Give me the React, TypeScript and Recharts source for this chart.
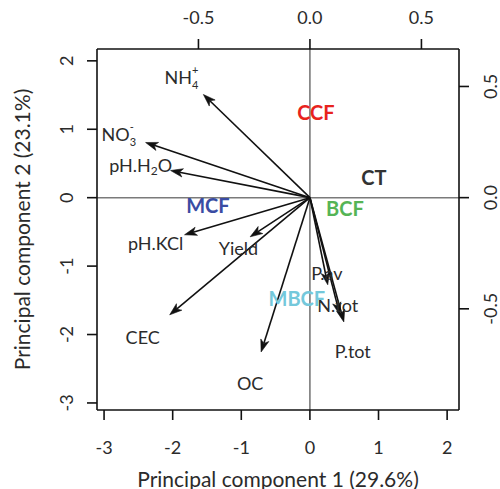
import React from "react";
import { ScatterChart, XAxis, YAxis, Scatter, ReferenceLine, Label } from "recharts";

const FONT = "Lato, 'DejaVu Sans', sans-serif";
const TEXT = "#2b2b2b";

// axes
const scoreTicks = [-3, -2, -1, 0, 1, 2];
const loadingTicks = [-0.5, 0, 0.5];
const scoreDomain: [number, number] = [-3.103, 2.173];
const loadingDomain: [number, number] = [-0.955, 0.6685];

// variable loadings (arrow tips) and their label positions (loading units)
const variableNames = ["NH4+", "NO3-", "pH.H2O", "pH.KCl", "Yield", "CEC", "OC", "P.av", "N.tot", "P.tot"];
const arrowTipX = [-0.478, -0.737, -0.625, -0.5625, -0.268, -0.629, -0.219, 0.08, 0.134, 0.152];
const arrowTipY = [0.464, 0.248, 0.122, -0.167, -0.176, -0.527, -0.694, -0.392, -0.527, -0.559];
const labelX = [-0.576, -0.857, -0.759, -0.692, -0.321, -0.75, -0.268, 0.076, 0.125, 0.192];
const labelY = [0.544, 0.287, 0.148, -0.203, -0.225, -0.627, -0.834, -0.339, -0.483, -0.69];

// treatment centroids (score units)
const treatmentNames = ["CCF", "CT", "BCF", "MCF", "MBCF"];
const treatmentX = [0.087, 0.933, 0.51, -1.487, -0.19];
const treatmentY = [1.254, 0.304, -0.15, -0.105, -1.472];
const treatmentColors = ["#e8231d", "#333333", "#55b455", "#3a4ca3", "#74c8db"];

const arrowData = variableNames.map((name, i) => ({ name, x: arrowTipX[i], y: arrowTipY[i] }));
const labelData = variableNames.map((name, i) => ({ name, x: labelX[i], y: labelY[i] }));
const treatmentData = treatmentNames.map((name, i) => ({
  name,
  x: treatmentX[i],
  y: treatmentY[i],
  color: treatmentColors[i],
}));

const fmtLoad = (v: number) => v.toFixed(1);

const BottomTick = (p: any) => (
  <text x={p.x} y={p.y + 25} textAnchor="middle" dominantBaseline="central" fontFamily={FONT} fontSize={18} fill={TEXT}>
    {p.payload.value}
  </text>
);
const TopTick = (p: any) => (
  <text x={p.x} y={p.y - 20} textAnchor="middle" dominantBaseline="central" fontFamily={FONT} fontSize={18} fill={TEXT}>
    {fmtLoad(p.payload.value)}
  </text>
);
const LeftTick = (p: any) => {
  const x = p.x - 19;
  return (
    <text x={x} y={p.y} transform={`rotate(-90, ${x}, ${p.y})`} textAnchor="middle" dominantBaseline="central" fontFamily={FONT} fontSize={18} fill={TEXT}>
      {p.payload.value}
    </text>
  );
};
const RightTick = (p: any) => {
  const x = p.x + 19;
  return (
    <text x={x} y={p.y} transform={`rotate(-90, ${x}, ${p.y})`} textAnchor="middle" dominantBaseline="central" fontFamily={FONT} fontSize={18} fill={TEXT}>
      {fmtLoad(p.payload.value)}
    </text>
  );
};

const ArrowShape = (p: any) => {
  const { x1, y1, x2, y2 } = p;
  const a = Math.atan2(y2 - y1, x2 - x1);
  const len = 13;
  const spread = 0.33;
  const back = 9;
  const lx = x2 - len * Math.cos(a - spread);
  const ly = y2 - len * Math.sin(a - spread);
  const rx = x2 - len * Math.cos(a + spread);
  const ry = y2 - len * Math.sin(a + spread);
  const nx = x2 - back * Math.cos(a);
  const ny = y2 - back * Math.sin(a);
  return (
    <g>
      <line x1={x1} y1={y1} x2={nx} y2={ny} stroke="#111" strokeWidth={1.6} />
      <polygon points={`${x2},${y2} ${lx},${ly} ${nx},${ny} ${rx},${ry}`} fill="#111" stroke="#111" strokeWidth={0.6} strokeLinejoin="miter" />
    </g>
  );
};

const VarLabel = (p: any) => {
  const { cx, cy, payload } = p;
  const n = payload.name;
  const common: any = {
    x: cx,
    y: cy,
    textAnchor: "middle",
    dominantBaseline: "central",
    fontFamily: FONT,
    fontSize: 18,
    fill: TEXT,
  };
  if (n === "NH4+") {
    return (
      <text {...common}>
        NH
        <tspan dy={7} fontSize={11}>4</tspan>
        <tspan dx={-6.5} dy={-15} fontSize={11}>+</tspan>
      </text>
    );
  }
  if (n === "NO3-") {
    return (
      <text {...common}>
        NO
        <tspan dy={7} fontSize={11}>3</tspan>
        <tspan dx={-6.5} dy={-15} fontSize={11}>-</tspan>
      </text>
    );
  }
  if (n === "pH.H2O") {
    return (
      <text {...common}>
        pH.H
        <tspan dy={5} fontSize={12}>2</tspan>
        <tspan dy={-5}>O</tspan>
      </text>
    );
  }
  return <text {...common}>{n}</text>;
};

const TreatmentLabel = (p: any) => {
  const { cx, cy, payload } = p;
  return (
    <text x={cx} y={cy} textAnchor="middle" dominantBaseline="central" fontFamily={FONT} fontSize={20} fontWeight="bold" fill={payload.color}>
      {payload.name}
    </text>
  );
};

const BottomTitle = (p: any) => {
  const vb = p.viewBox;
  return (
    <text x={vb.x + vb.width / 2} y={vb.y + 68} textAnchor="middle" dominantBaseline="central" fontFamily={FONT} fontSize={21} fill={TEXT}>
      Principal component 1 (29.6%)
    </text>
  );
};
const LeftTitle = (p: any) => {
  const vb = p.viewBox;
  const x = vb.x + 21;
  const y = vb.y + vb.height / 2;
  return (
    <text x={x} y={y} transform={`rotate(-90, ${x}, ${y})`} textAnchor="middle" dominantBaseline="central" fontFamily={FONT} fontSize={21} fill={TEXT}>
      Principal component 2 (23.1%)
    </text>
  );
};

const axisStroke = { stroke: "#111", strokeWidth: 1.6 };

export default function App() {
  return (
    <div style={{ position: "absolute", left: 0, top: 0, background: "#fff" }}>
      <ScatterChart width={500} height={489} margin={{ top: 0, right: 0, bottom: 0, left: 0 }}>
        <XAxis
          xAxisId="pc1"
          orientation="bottom"
          type="number"
          dataKey="x"
          domain={scoreDomain}
          ticks={scoreTicks}
          interval={0}
          height={79}
          allowDataOverflow
          axisLine={axisStroke}
          tickLine={axisStroke}
          tickSize={10}
          tick={<BottomTick />}
        >
          <Label content={<BottomTitle />} />
        </XAxis>
        <XAxis
          xAxisId="load1"
          orientation="top"
          type="number"
          dataKey="x"
          domain={loadingDomain}
          ticks={loadingTicks}
          interval={0}
          height={49}
          allowDataOverflow
          axisLine={axisStroke}
          tickLine={axisStroke}
          tickSize={10}
          tick={<TopTick />}
        />
        <YAxis
          yAxisId="pc2"
          orientation="left"
          type="number"
          dataKey="y"
          domain={scoreDomain}
          ticks={scoreTicks}
          interval={0}
          width={97}
          allowDataOverflow
          axisLine={axisStroke}
          tickLine={axisStroke}
          tickSize={10}
          tick={<LeftTick />}
        >
          <Label content={<LeftTitle />} />
        </YAxis>
        <YAxis
          yAxisId="load2"
          orientation="right"
          type="number"
          dataKey="y"
          domain={loadingDomain}
          ticks={loadingTicks}
          interval={0}
          width={41}
          allowDataOverflow
          axisLine={axisStroke}
          tickLine={axisStroke}
          tickSize={10}
          tick={<RightTick />}
        />
        <ReferenceLine xAxisId="pc1" yAxisId="pc2" x={0} stroke="#7a7a7a" strokeWidth={1.6} />
        <ReferenceLine xAxisId="pc1" yAxisId="pc2" y={0} stroke="#7a7a7a" strokeWidth={1.6} />
        {arrowData.map((a) => (
          <ReferenceLine
            key={a.name}
            xAxisId="load1"
            yAxisId="load2"
            segment={[
              { x: 0, y: 0 },
              { x: a.x, y: a.y },
            ]}
            shape={ArrowShape}
          />
        ))}
        <Scatter xAxisId="load1" yAxisId="load2" data={labelData} shape={VarLabel} isAnimationActive={false} />
        <Scatter xAxisId="pc1" yAxisId="pc2" data={treatmentData} shape={TreatmentLabel} isAnimationActive={false} />
      </ScatterChart>
    </div>
  );
}
